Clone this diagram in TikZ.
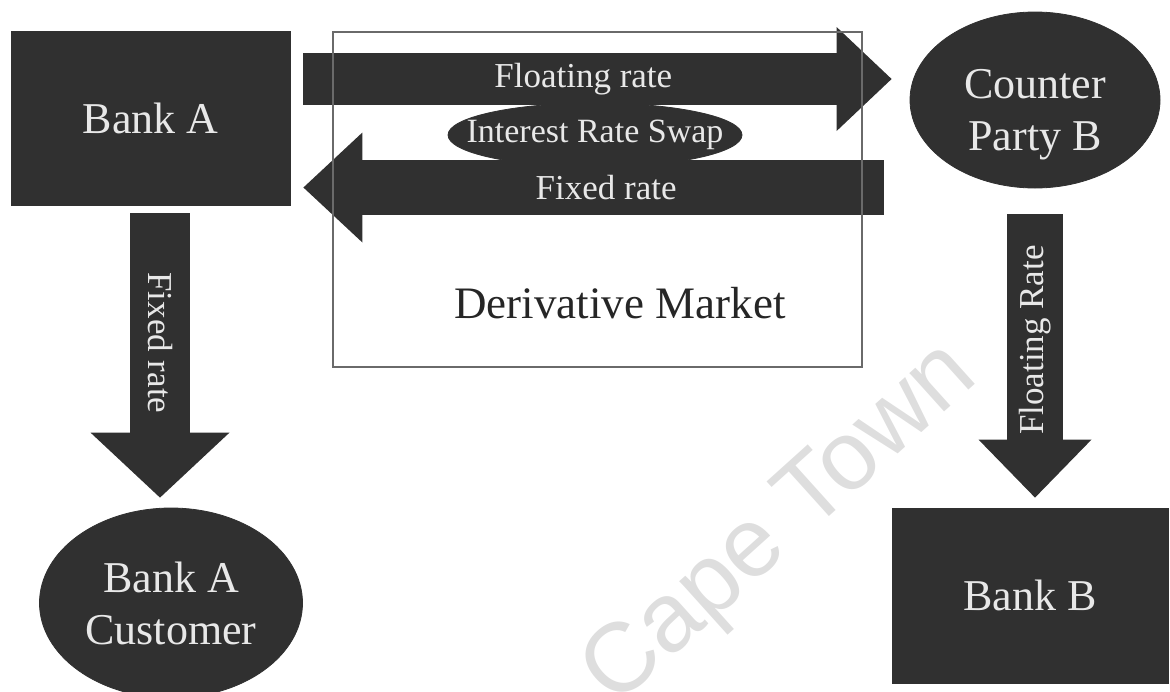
\documentclass[tikz,border=0pt]{standalone}
\usepackage{fontspec}
\setmainfont{Liberation Serif}
\newfontfamily\stampfont{Liberation Sans}
\usepackage{tikz}
\usetikzlibrary{shapes.geometric, arrows.meta, positioning, calc}
\definecolor{boxfill}{HTML}{303030}
\definecolor{boxtext}{HTML}{E8E8E8}
\definecolor{frame}{HTML}{6A6A6A}
\definecolor{stamp}{HTML}{DEDEDE}

\begin{document}
\begin{tikzpicture}[
    x=0.5pt, y=-0.5pt,
    party/.style={rectangle, draw=boxfill, fill=boxfill, text=boxtext,
                  font=\fontsize{22}{26}\selectfont, align=center, inner sep=0pt},
    client/.style={ellipse, draw=boxfill, fill=boxfill, text=boxtext,
                   font=\fontsize{22}{26}\selectfont, align=center, inner sep=0pt},
    flow/.style n args={3}{draw=boxfill, line width=#1,
                   -{Triangle[length=#2, width=#3, line width=0pt]}},
    flowtext/.style={text=boxtext, font=\fontsize{17.5}{20}\selectfont, inner sep=0pt},
    marketbox/.style={rectangle, draw=frame, line width=0.6pt,
                      minimum width=264.5pt, minimum height=167.5pt, inner sep=0pt}
]
\useasboundingbox (0,0) rectangle (1170,691);

% watermark
\node[rotate=42, text=stamp, font=\stampfont\fontsize{49}{58}\selectfont] (watermark) at (782,526) {Cape Town};

\node[client, minimum width=147pt, minimum height=32pt,
      font=\fontsize{17}{20}\selectfont] (swap) at (595,135) {\makebox[0pt]{Interest Rate Swap}};

\node[party, minimum width=139.5pt, minimum height=87pt] (bankA) at (150.5,118) {Bank A};
\node[client, minimum width=125pt, minimum height=88pt] (cpB) at (1035,100) {\rule{0pt}{29pt}Counter\\Party B};
\node[client, minimum width=131.5pt, minimum height=95pt] (custA) at (171,603) {Bank A\\Customer};
\node[party, minimum width=138pt, minimum height=87.5pt] (bankB) at (1030,595.5) {Bank B};

% swap legs
\draw[flow={26pt}{27.5pt}{52pt}, shorten <=6.5pt, shorten >=9pt]
    ([yshift=19.5pt]bankA.east) -- node[flowtext, pos=0.473] (floatlbl) {Floating rate} ([yshift=10.5pt]cpB.west);
\draw[flow={27.5pt}{29.5pt}{55pt}, shorten <=13pt, shorten >=6.5pt]
    ([yshift=-43.75pt]cpB.west) -- node[flowtext, pos=0.49] (fixlbl) {Fixed rate} ([yshift=-34.75pt]bankA.east);

% payments to the end parties
\draw[flow={30pt}{32.5pt}{69.5pt}, shorten <=4pt, shorten >=5pt]
    ([xshift=4.75pt]bankA.south) -- node[flowtext, pos=0.455, rotate=-90] (custlbl) {Fixed rate}
    ([xshift=4.75pt]bankA.south |- custA.north);
\draw[flow={28pt}{29pt}{56.5pt}, shorten <=13pt, shorten >=5pt]
    (cpB.south) -- node[flowtext, pos=0.475, rotate=90] (banklbl) {Floating Rate} (cpB.south |- bankB.north);

\node[marketbox] (market) at (597.5,199.5) {};
\node[font=\fontsize{22.5}{27}\selectfont, text=black!85] (marketname) at (620,303) {Derivative Market};

\end{tikzpicture}
\end{document}
